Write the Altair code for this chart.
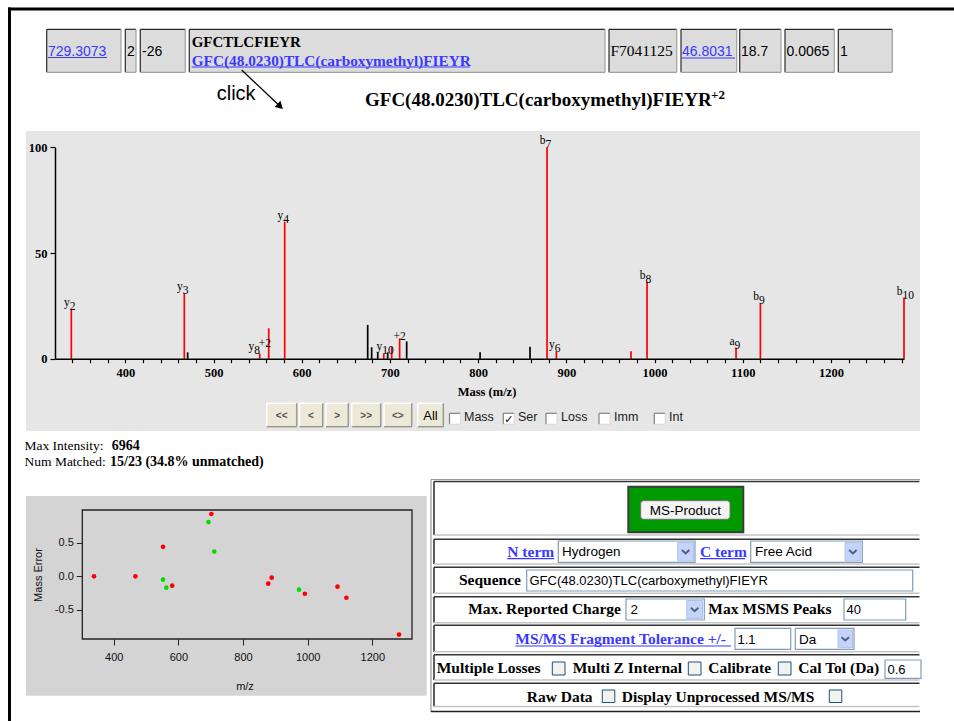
import altair as alt
import pandas as pd

W, H = 954, 721

# ---------------- chart data ----------------
peak_mz = [338.8, 466.9, 470.7, 552.4, 562.6, 580.7, 674.8, 679.3, 686.2, 693.0,
           697.5, 702.0, 711.0, 719.0, 802.2, 858.8, 878.1, 888.7, 973.3, 991.5,
           1092.4, 1120.0, 1282.8]
peak_intensity = [23.5, 31.0, 3.0, 2.5, 14.4, 64.8, 16.0, 5.4, 3.0, 2.5,
                  3.0, 5.7, 9.6, 8.2, 3.0, 5.7, 100.0, 3.5, 3.5, 36.4,
                  5.2, 26.2, 28.9]
peak_status = ["matched", "matched", "unmatched", "matched", "matched", "matched",
               "unmatched", "unmatched", "unmatched", "matched", "unmatched", "matched",
               "matched", "unmatched", "unmatched", "unmatched", "matched", "matched",
               "matched", "matched", "matched", "matched", "matched"]

label_mz = [338.8, 466.9, 552.4, 580.7, 693.0, 702.0, 878.1, 888.7, 991.5, 1092.4, 1120.0, 1282.8]
label_ion = ["y", "y", "y", "y", "y", "", "b", "y", "b", "a", "b", "b"]
label_index = ["2", "3", "8", "4", "10", "", "7", "6", "8", "9", "9", "10"]
label_charge = ["", "", "+2", "", "", "+2", "", "", "", "", "", ""]

err_mz = [338.8, 466.9, 552.4, 580.7, 702.0, 878.1, 888.7, 991.5, 1092.4, 1120.0, 1282.8,
          552.4, 562.6, 693.0, 711.0, 973.3]
err_value = [0.0, 0.0, 0.44, -0.14, 0.93, -0.11, -0.02, -0.26, -0.155, -0.32, -0.87,
             -0.05, -0.17, 0.81, 0.37, -0.20]
err_series = ["red"] * 11 + ["green"] * 5

spec_x_ticks = list(range(340, 1281, 20))
spec_y_ticks = [0, 50, 100]
err_x_ticks = [400, 600, 800, 1000, 1200]
err_y_ticks = [-0.5, 0.0, 0.5]

table_values = ["729.3073", "2", "-26", "GFCTLCFIEYR", "GFC(48.0230)TLC(carboxymethyl)FIEYR",
                "F7041125", "46.8031", "18.7", "0.0065", "1"]
title_text = "GFC(48.0230)TLC(carboxymethyl)FIEYR"
title_charge = "+2"
max_intensity = "6964"
num_matched = "15/23 (34.8% unmatched)"

# ---------------- scales ----------------
XP = alt.Scale(domain=[0, W], range=[0, W], nice=False, zero=False)
YP = alt.Scale(domain=[0, H], range=[0, H], nice=False, zero=False)
SPEC_X = alt.Scale(domain=[320.3, 1282.8], range=[55, 904], nice=False, zero=False)
SPEC_Y = alt.Scale(domain=[0, 100], range=[358.7, 147.3], nice=False, zero=False)
ERR_X = alt.Scale(domain=[302.6, 1323.0], range=[82.3, 412], nice=False, zero=False)
ERR_Y = alt.Scale(domain=[-0.936, 0.99], range=[639, 510], nice=False, zero=False)

SERIF = "Liberation Serif"
SANS = "Liberation Sans"
LINK = "#3a3aff"


def _enc(df, two=True):
    enc = dict(x=alt.X("x:Q", scale=XP, axis=None), y=alt.Y("y:Q", scale=YP, axis=None))
    if two:
        enc["x2"] = "x2:Q"
        enc["y2"] = "y2:Q"
    return enc


def rects(boxes, **style):
    df = pd.DataFrame(boxes, columns=["x", "y", "x2", "y2"])
    return alt.Chart(df).mark_rect(**style).encode(**_enc(df))


def lines(segs, **style):
    df = pd.DataFrame(segs, columns=["x", "y", "x2", "y2"])
    return alt.Chart(df).mark_rule(**style).encode(**_enc(df))


def texts(items, **style):
    df = pd.DataFrame(items, columns=["x", "y", "t"])
    df["t"] = df["t"].astype(str)
    return alt.Chart(df).mark_text(**style).encode(text="t:N", **_enc(df, False))


def points(items, **style):
    df = pd.DataFrame(items, columns=["x", "y"])
    return alt.Chart(df).mark_point(**style).encode(**_enc(df, False))


def bevel(boxes, dark, light, w=1.2):
    tl, br = [], []
    for x, y, x2, y2 in boxes:
        tl += [(x, y, x2, y), (x, y, x, y2)]
        br += [(x, y2, x2, y2), (x2, y, x2, y2)]
    return [lines(tl, color=dark, strokeWidth=w), lines(br, color=light, strokeWidth=w)]


layers = []

# ---------------- page frame ----------------
layers.append(rects([(8, 7.5, 954, 10.5), (8, 7.5, 11, 721)], color="black"))

# ---------------- top result table ----------------
cells = [(46.7, 29.3, 121, 72.3), (125.3, 29.3, 136, 72.3), (140.3, 29.3, 185.3, 72.3),
         (189.3, 29.3, 605, 72.3), (609, 29.3, 676.7, 72.3), (681, 29.3, 736.7, 72.3),
         (739.7, 29.3, 781, 72.3), (785, 29.3, 834.3, 72.3), (838.3, 29.3, 892.3, 72.3)]
layers.append(rects(cells, color="#dcdcdc"))
layers += bevel(cells, "#2a2a2a", "#a0a0a0")
layers.append(texts([(48, 56, table_values[0]), (682, 56, table_values[6])],
                    font=SANS, fontSize=14, color=LINK, align="left", baseline="alphabetic"))
layers.append(texts([(127, 56, table_values[1]), (142, 56, table_values[2]), (741, 56, table_values[7]),
                     (786.5, 56, table_values[8]), (840, 56, table_values[9])],
                    font=SANS, fontSize=14, color="black", align="left", baseline="alphabetic"))
layers.append(texts([(191.7, 46.5, table_values[3])], font=SERIF, fontSize=15, fontWeight="bold",
                    color="black", align="left", baseline="alphabetic"))
layers.append(texts([(191.7, 65.5, table_values[4])], font=SERIF, fontSize=15.3, fontWeight="bold",
                    color=LINK, align="left", baseline="alphabetic"))
layers.append(texts([(610.5, 56, table_values[5])], font=SERIF, fontSize=15.5,
                    color="black", align="left", baseline="alphabetic"))
layers.append(lines([(48, 57.5, 107, 57.5), (191.7, 67, 470, 67), (682, 58, 735, 58)],
                    color=LINK, strokeWidth=1))

# click arrow + title
layers.append(texts([(216.7, 99.5, "click")], font=SANS, fontSize=20, color="black",
                    align="left", baseline="alphabetic"))
layers.append(lines([(241.7, 70, 279.5, 105.8)], color="black", strokeWidth=1.3))
layers.append(points([(280.2, 106.4)], shape="triangle-up", filled=True, color="black",
                     size=70, angle=133.4, opacity=1))
layers.append(texts([(365, 106, title_text)], font=SERIF, fontSize=19, fontWeight="bold",
                    color="black", align="left", baseline="alphabetic"))
layers.append(texts([(711, 99, title_charge)], font=SERIF, fontSize=13, fontWeight="bold",
                    color="black", align="left", baseline="alphabetic"))

# ---------------- spectrum panel ----------------
layers.append(rects([(26, 131, 920, 431)], color="#e6e6e6"))
layers.append(texts([(487, 396, "Mass (m/z)")], font=SERIF, fontSize=12.5, fontWeight="bold",
                    color="black", align="center", baseline="alphabetic"))
buttons = [(266.7, 403.3, 296.7, 426.7), (299.3, 403.3, 322.7, 426.7), (326, 403.3, 348.3, 426.7),
           (351.7, 403.3, 380.7, 426.7), (384, 403.3, 411.7, 426.7), (417.7, 403.3, 443.3, 426.7)]
layers.append(rects(buttons, color="#ece9d8"))
layers += bevel(buttons, "#ffffff", "#9d9a8a", 1.5)
layers.append(texts([(281.7, 415.5, "<<"), (311, 415.5, "<"), (337.2, 415.5, ">"),
                     (366.2, 415.5, ">>"), (397.8, 415.5, "<>")],
                    font=SANS, fontSize=10, fontWeight="bold", color="#555555",
                    align="center", baseline="middle"))
layers.append(texts([(430.5, 415.5, "All")], font=SANS, fontSize=13, color="black",
                    align="center", baseline="middle"))
cb1 = [(449.5, 413.3, 460.5, 424.3), (503.3, 413.3, 514.3, 424.3), (546, 413.3, 557, 424.3),
       (599, 413.3, 610, 424.3), (654.3, 413.3, 665.3, 424.3)]
layers.append(rects(cb1, color="#ffffff"))
layers += bevel(cb1, "#808080", "#dcdcdc", 1.2)
layers.append(texts([(508.8, 419.5, "✓")], font="DejaVu Sans", fontSize=11, fontWeight="bold",
                    color="black", align="center", baseline="middle"))
layers.append(texts([(464, 421, "Mass"), (518, 421, "Ser"), (561, 421, "Loss"),
                     (614, 421, "Imm"), (669, 421, "Int")],
                    font=SANS, fontSize=12.5, color="#222222", align="left", baseline="alphabetic"))

# peaks
spec_df = pd.DataFrame({"mz": peak_mz, "intensity": peak_intensity, "status": peak_status})
peaks = alt.Chart(spec_df).mark_rule(strokeWidth=1.7).encode(
    x=alt.X("mz:Q", scale=SPEC_X, axis=alt.Axis(
        orient="bottom", offset=358.7 - H, values=spec_x_ticks, format="d",
        labelExpr="datum.value % 100 === 0 ? datum.label : ''", title=None, grid=False,
        labelFont=SERIF, labelFontWeight="bold", labelFontSize=12.5, labelColor="black",
        tickColor="black", tickSize=4, tickWidth=1.2, domainColor="black", domainWidth=1.5,
        labelPadding=4, labelFlush=False, labelOverlap=False, zindex=1)),
    y=alt.Y("intensity:Q", scale=SPEC_Y, axis=alt.Axis(
        orient="left", offset=-55, values=spec_y_ticks, title=None, grid=False,
        labelFont=SERIF, labelFontWeight="bold", labelFontSize=12.5, labelColor="black",
        tickColor="black", tickSize=5, tickWidth=1.2, domainColor="black", domainWidth=1.5,
        labelPadding=3, labelFlush=False, labelOverlap=False, zindex=1)),
    y2=alt.datum(0),
    color=alt.Color("status:N", scale=alt.Scale(domain=["matched", "unmatched"],
                                                range=["#ff0000", "#000000"]), legend=None),
)
layers.append(peaks)

intensity_of = dict(zip(peak_mz, peak_intensity))
lab_df = pd.DataFrame({"mz": label_mz, "ion": label_ion, "num": label_index, "charge": label_charge})
lab_df["intensity"] = [intensity_of[m] for m in label_mz]
plain = lab_df[lab_df["charge"] == ""]
charged = lab_df[(lab_df["charge"] != "") & (lab_df["ion"] != "")]
lone = lab_df[(lab_df["charge"] != "") & (lab_df["ion"] == "")]


def peak_text(df, field, **style):
    return alt.Chart(df).mark_text(font=SERIF, fontSize=11.5, color="black",
                                   baseline="alphabetic", **style).encode(
        x=alt.X("mz:Q", scale=SPEC_X, axis=None),
        y=alt.Y("intensity:Q", scale=SPEC_Y, axis=None),
        text=f"{field}:N")


layers.append(peak_text(plain, "ion", align="right", dx=-1.5, dy=-3))
layers.append(peak_text(plain, "num", align="left", dx=-1.5, dy=1))
layers.append(peak_text(charged, "ion", align="right", dx=-5.5, dy=-3))
layers.append(peak_text(charged, "num", align="left", dx=-5.5, dy=1))
layers.append(peak_text(charged, "charge", align="left", dx=-1, dy=-6.3))
layers.append(peak_text(lone, "charge", align="left", dx=1.8, dy=-6.3))

# ---------------- info text ----------------
layers.append(texts([(24.5, 450, "Max Intensity:"), (24.5, 466, "Num Matched:")],
                    font=SERIF, fontSize=13.5, color="black", align="left", baseline="alphabetic"))
layers.append(texts([(111.7, 450, max_intensity), (110, 466, num_matched)],
                    font=SERIF, fontSize=14, fontWeight="bold", color="black",
                    align="left", baseline="alphabetic"))

# ---------------- mass error panel ----------------
layers.append(rects([(26, 496, 426.7, 695.7)], color="#d4d4d4"))
layers.append(rects([(82.3, 510, 412, 639)], filled=False, color="#222222", strokeWidth=1.3))
layers.append(texts([(39.3, 575, "Mass Error")], font=SANS, fontSize=11, color="#111111",
                    align="center", baseline="middle", angle=270))
layers.append(texts([(245, 687, "m/z")], font=SANS, fontSize=11, color="#111111",
                    align="center", baseline="middle"))
err_df = pd.DataFrame({"mz": err_mz, "error": err_value, "series": err_series})
layers.append(alt.Chart(err_df).mark_circle(size=22, opacity=1).encode(
    x=alt.X("mz:Q", scale=ERR_X, axis=alt.Axis(
        orient="bottom", offset=639 - H, values=err_x_ticks, format="d", title=None, grid=False,
        domain=False, labelFont=SANS, labelFontSize=11, labelColor="#111111",
        tickColor="#222222", tickSize=6, labelPadding=6, labelFlush=False, zindex=1)),
    y=alt.Y("error:Q", scale=ERR_Y, axis=alt.Axis(
        orient="left", offset=-82.3, values=err_y_ticks, title=None, grid=False, domain=False,
        labelExpr="datum.value < 0 ? '-' + format(-datum.value, '.1f') : format(datum.value, '.1f')",
        labelFont=SANS, labelFontSize=11, labelColor="#111111",
        tickColor="#222222", tickSize=6, labelPadding=3, labelFlush=False, zindex=1)),
    color=alt.Color("series:N", scale=alt.Scale(domain=["red", "green"],
                                                range=["#ff0000", "#00dd00"]), legend=None),
))

# ---------------- MS-Product form ----------------
rows = [(481.5, 535), (539.3, 564), (567.3, 593.3), (596.7, 622.7), (625.3, 651.7),
        (654.7, 680), (683.3, 706.5)]
layers.append(lines([(431, 479.5, 431, 712), (431, 479.5, 920, 479.5)], color="#9a9a9a", strokeWidth=1.2))
layers.append(lines([(431, 711.5, 920, 711.5)], color="#222222", strokeWidth=1.5))
layers.append(lines([(434, t, 919.5, t) for t, b in rows] + [(434, t, 434, b) for t, b in rows],
                    color="#333333", strokeWidth=1.6))
layers.append(lines([(434, b, 919.5, b) for t, b in rows], color="#c4c4c4", strokeWidth=1.4))

layers.append(rects([(628.3, 486.7, 743.3, 532.3)], color="#009a00", stroke="#3a3a3a", strokeWidth=2))
layers.append(rects([(640.7, 500.7, 730, 519.3)], color="#f4f4f4", stroke="#707070",
                    strokeWidth=1, cornerRadius=3))
layers.append(texts([(685.3, 510.5, "MS-Product")], font=SANS, fontSize=13.5, color="black",
                    align="center", baseline="middle"))

inputs = [(558.3, 541, 695, 562.3), (750.7, 541, 862.3, 562.3), (526.7, 570, 912.7, 591),
          (626, 599, 704.3, 620), (844, 599, 905.7, 620), (735, 628.3, 790.7, 649.3),
          (795.3, 628.3, 854, 649.3), (885, 660, 921, 678.3)]
layers.append(rects(inputs, color="#ffffff", stroke="#7f9db9", strokeWidth=1.2))
drop_btns = [(677.7, 542.5, 693.5, 561), (845, 542.5, 860.8, 561), (686.7, 600.5, 702.5, 618.5),
             (838, 630, 852.5, 647.7)]
layers.append(rects(drop_btns, color="#c4d3f8", stroke="#b0c2ec", strokeWidth=1))
layers.append(points([((a + c) / 2, (b + d) / 2) for a, b, c, d in drop_btns],
                     shape="M-1,-0.45L0,0.45L1,-0.45", filled=False, color="#4d6185",
                     strokeWidth=2, size=55, opacity=1))
checks = [(552.3, 662, 565, 675), (688.3, 662, 701, 675), (778.3, 662, 791, 675),
          (602.3, 690, 614.8, 702.5), (829.3, 690, 841.8, 702.5)]
layers.append(rects(checks, color="#f2f2ee", stroke="#1c5180", strokeWidth=1))

layers.append(texts([(507.3, 556.5, "N term"), (700, 556.5, "C term"),
                     (515.3, 644, "MS/MS Fragment Tolerance +/-")],
                    font=SERIF, fontSize=15.5, fontWeight="bold", color=LINK,
                    align="left", baseline="alphabetic"))
layers.append(lines([(507.3, 558.7, 554.3, 558.7), (700, 558.7, 745, 558.7), (515.3, 646, 731, 646)],
                    color=LINK, strokeWidth=1.2))
layers.append(texts([(521, 585, "Sequence"), (621, 614, "Max. Reported Charge")],
                    font=SERIF, fontSize=15.5, fontWeight="bold", color="black",
                    align="right", baseline="alphabetic"))
layers.append(texts([(708.3, 614, "Max MSMS Peaks"), (436.7, 673.3, "Multiple Losses"),
                     (572.7, 673.3, "Multi Z Internal"), (708.3, 673.3, "Calibrate"),
                     (798.3, 673.3, "Cal Tol (Da)"), (526.7, 701.7, "Raw Data"),
                     (621.7, 701.7, "Display Unprocessed MS/MS")],
                    font=SERIF, fontSize=15.5, fontWeight="bold", color="black",
                    align="left", baseline="alphabetic"))
layers.append(texts([(562, 556, "Hydrogen"), (755, 556, "Free Acid"), (630.5, 614, "2"),
                     (799, 643.5, "Da")],
                    font=SANS, fontSize=13.5, color="black", align="left", baseline="alphabetic"))
layers.append(texts([(529.5, 585, title_text), (846.5, 614, "40"), (737.5, 643.5, "1.1"),
                     (887.5, 673.5, "0.6")],
                    font=SANS, fontSize=13, color="black", align="left", baseline="alphabetic"))

chart = alt.layer(*layers).resolve_scale(
    x="independent", y="independent", color="independent"
).properties(
    width=W, height=H, padding=0, background="white",
    autosize=alt.AutoSizeParams(type="none"),
).configure_view(strokeWidth=0)

chart.save("out.html", embed_options={"renderer": "svg", "actions": False})
